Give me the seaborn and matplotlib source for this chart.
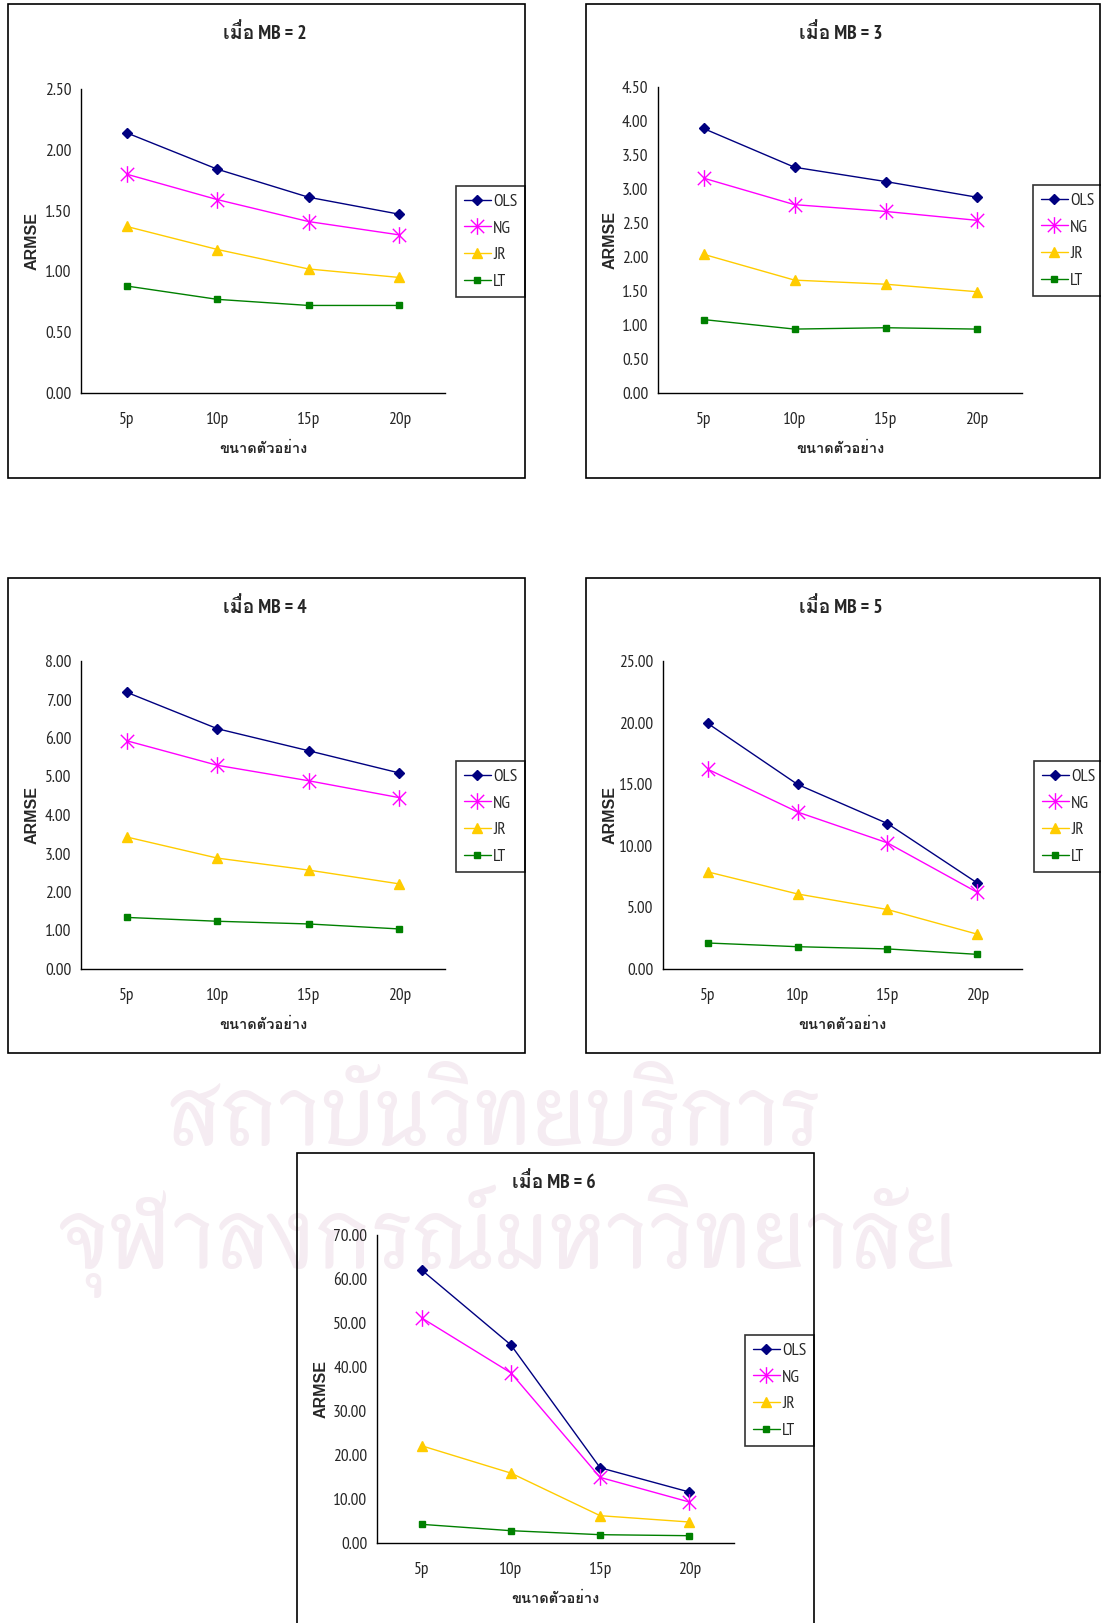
import numpy as np
import matplotlib
matplotlib.use("Agg")
import matplotlib.pyplot as plt
from matplotlib.path import Path
from matplotlib.patches import Rectangle
import seaborn as sns

# ---------------- data ----------------
sizes = ["5p", "10p", "15p", "20p"]
methods = ["OLS", "NG", "JR", "LT"]

ols_mb2 = [2.14, 1.84, 1.61, 1.47]
ng_mb2 = [1.80, 1.59, 1.41, 1.30]
jr_mb2 = [1.37, 1.18, 1.02, 0.95]
lt_mb2 = [0.88, 0.77, 0.72, 0.72]

ols_mb3 = [3.89, 3.32, 3.11, 2.88]
ng_mb3 = [3.16, 2.77, 2.67, 2.54]
jr_mb3 = [2.04, 1.66, 1.60, 1.49]
lt_mb3 = [1.08, 0.94, 0.96, 0.94]

ols_mb4 = [7.19, 6.24, 5.67, 5.09]
ng_mb4 = [5.93, 5.29, 4.89, 4.45]
jr_mb4 = [3.43, 2.88, 2.57, 2.21]
lt_mb4 = [1.34, 1.24, 1.17, 1.04]

ols_mb5 = [19.93, 14.98, 11.81, 6.99]
ng_mb5 = [16.21, 12.74, 10.24, 6.23]
jr_mb5 = [7.88, 6.09, 4.83, 2.83]
lt_mb5 = [2.11, 1.81, 1.63, 1.19]

ols_mb6 = [62.05, 45.02, 17.10, 11.58]
ng_mb6 = [51.16, 38.67, 14.91, 9.31]
jr_mb6 = [22.10, 15.89, 6.21, 4.77]
lt_mb6 = [4.24, 2.80, 1.89, 1.66]

# ---------------- fonts ----------------
sns.set_style("white")
NARROW = ["PT Sans Narrow", "Roboto Condensed", "Liberation Sans", "DejaVu Sans"]
THAI = ["PT Sans Narrow", "Loma", "Noto Sans Thai Looped", "DejaVu Sans"]
THAI_ONLY = ["Loma", "Noto Sans Thai Looped", "DejaVu Sans"]
WATER = ["Thasadith", "Loma", "Noto Sans Thai Looped", "DejaVu Sans"]
plt.rcParams["font.family"] = NARROW

W, H = 1101, 1623
fig = plt.figure(figsize=(W / 100, H / 100), dpi=100)
fig.patch.set_facecolor("white")

# faint watermark text, drawn underneath every chart
fig.text(494 / W, 1 - 1119 / H, "สถาบันวิทยบริการ", ha="center", va="center",
         fontsize=70, fontweight="bold", color="#f5ecf2", family=WATER, zorder=-5)
fig.text(507 / W, 1 - 1241 / H, "จุฬาลงกรณ์มหาวิทยาลัย", ha="center", va="center",
         fontsize=70, fontweight="bold", color="#f5ecf2", family=WATER, zorder=-5)

# Excel-style asterisk: an X with a vertical bar through it
asterisk = Path([(-1, -1), (1, 1), (-1, 1), (1, -1), (0, -1.25), (0, 1.25)],
                [Path.MOVETO, Path.LINETO] * 3)
styles = {
    "OLS": dict(color="#000080", marker="D", ms=5.2),
    "NG": dict(color="#FF00FF", marker=asterisk, ms=12),
    "JR": dict(color="#FFCC00", marker="^", ms=6.5),
    "LT": dict(color="#008000", marker="s", ms=5),
}

panels = [
    dict(mb=2, series=[ols_mb2, ng_mb2, jr_mb2, lt_mb2], ymax=2.5, step=0.5,
         frame=(8, 4, 525, 478), ax=(81, 89, 445, 393), leg=(456, 186), ylab=32),
    dict(mb=3, series=[ols_mb3, ng_mb3, jr_mb3, lt_mb3], ymax=4.5, step=0.5,
         frame=(586, 4, 1100, 478), ax=(658, 87, 1022, 393), leg=(1033, 185), ylab=610),
    dict(mb=4, series=[ols_mb4, ng_mb4, jr_mb4, lt_mb4], ymax=8, step=1,
         frame=(8, 578, 525, 1053), ax=(81, 661, 445, 969), leg=(456, 761), ylab=32),
    dict(mb=5, series=[ols_mb5, ng_mb5, jr_mb5, lt_mb5], ymax=25, step=5,
         frame=(586, 578, 1100, 1053), ax=(663, 661, 1022, 969), leg=(1034, 761), ylab=610),
    dict(mb=6, series=[ols_mb6, ng_mb6, jr_mb6, lt_mb6], ymax=70, step=10,
         frame=(297, 1153, 814, 1640), ax=(377, 1235, 734, 1543), leg=(745, 1335), ylab=321),
]

xpos = np.arange(len(sizes)) + 0.5

for p in panels:
    x0, y0, x1, y1 = p["frame"]
    fig.patches.append(Rectangle((x0 / W, 1 - y1 / H), (x1 - x0) / W, (y1 - y0) / H,
                                 transform=fig.transFigure, fill=False,
                                 edgecolor="black", linewidth=1.2, zorder=1))
    L, T, R, B = p["ax"]
    ax = fig.add_axes([L / W, 1 - B / H, (R - L) / W, (B - T) / H])
    ax.patch.set_alpha(0)
    for name, vals in zip(methods, p["series"]):
        st = styles[name]
        sns.lineplot(x=xpos, y=vals, ax=ax, color=st["color"], marker=st["marker"],
                     markersize=st["ms"], markeredgecolor=st["color"],
                     markerfacecolor=st["color"], markeredgewidth=1.0,
                     linewidth=1.0, label=name, legend=False)
    ax.set_xlim(0, 4)
    ax.set_ylim(0, p["ymax"])
    yt = np.arange(0, p["ymax"] + p["step"] / 2, p["step"])
    ax.set_yticks(yt)
    ax.set_yticklabels([f"{v:.2f}" for v in yt])
    ax.set_xticks([0, 1, 2, 3, 4])
    ax.set_xticklabels([])
    ax.set_xticks(xpos, minor=True)
    ax.set_xticklabels(sizes, minor=True)
    ax.tick_params(axis="x", which="major", length=5, width=1, direction="out", color="black")
    ax.tick_params(axis="x", which="minor", length=0, pad=14, labelsize=12.5)
    ax.tick_params(axis="y", length=4, width=1, direction="out", pad=3, labelsize=12.5,
                   color="black")
    for s in ["top", "right"]:
        ax.spines[s].set_visible(False)
    for s in ["left", "bottom"]:
        ax.spines[s].set_color("black")
        ax.spines[s].set_linewidth(1.0)
    ax.set_xlabel("")
    ax.set_ylabel("")
    cx = (L + R) / 2
    fig.text(((x0 + x1) / 2 - 2) / W, 1 - (y0 + 29) / H, f"เมื่อ MB = {p['mb']}",
             ha="center", va="center", fontsize=14, fontweight="bold", family=THAI)
    fig.text(cx / W, 1 - (B + 56) / H, "ขนาดตัวอย่าง", ha="center", va="center",
             fontsize=10.5, fontweight="bold", family=THAI_ONLY)
    fig.text(p["ylab"] / W, 1 - ((T + B) / 2) / H, "ARMSE", ha="center", va="center",
             rotation=90, fontsize=11.5, fontweight="bold",
             family=["Liberation Sans", "DejaVu Sans"])
    handles, labels = ax.get_legend_handles_labels()
    lx, ly = p["leg"]
    leg = ax.legend(handles, labels, loc="upper left", bbox_to_anchor=(lx / W, 1 - ly / H),
                    bbox_transform=fig.transFigure, frameon=True, fancybox=False,
                    fontsize=12.5, handlelength=1.55, handletextpad=0.15,
                    labelspacing=0.6, borderpad=0.45, borderaxespad=0)
    leg.get_frame().set_edgecolor("black")
    leg.get_frame().set_linewidth(1.2)

fig.savefig("out.png", dpi=100)
